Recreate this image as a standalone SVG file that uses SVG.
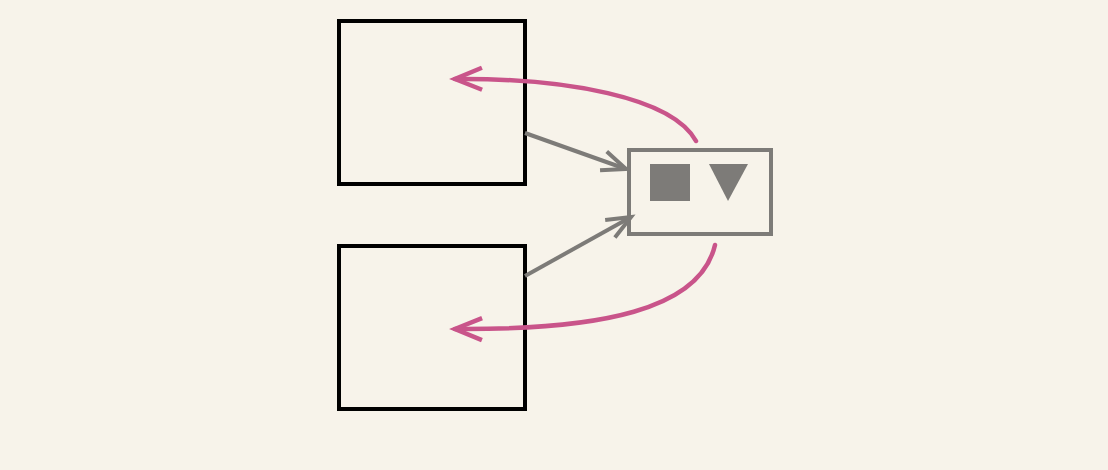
<svg xmlns="http://www.w3.org/2000/svg" width="1108" height="470" viewBox="0 0 1108 470">
<style>
.box{fill:none;stroke:#000;stroke-width:4}
.gbox{fill:none;stroke:#7d7b78;stroke-width:4}
.gline{fill:none;stroke:#7d7b78;stroke-width:4}
.pline{fill:none;stroke:#c9548a;stroke-width:4.5;stroke-linecap:round}
</style>
<defs>
<marker id="ag" markerUnits="userSpaceOnUse" markerWidth="40" markerHeight="30" viewBox="-32 -15 40 30" refX="0" refY="0" orient="auto">
<path d="M-24,-10 L0,0 L-24,10" fill="none" stroke="#7d7b78" stroke-width="4"/>
</marker>
<marker id="ap" markerUnits="userSpaceOnUse" markerWidth="40" markerHeight="30" viewBox="-32 -15 40 30" refX="0" refY="0" orient="auto">
<path d="M-27,-11 L0,0 L-27,11" fill="none" stroke="#c9548a" stroke-width="4.5"/>
</marker>
</defs>
<rect width="1108" height="470" fill="#f7f3ea"/>
<g id="node-top"><rect class="box" x="339" y="21" width="186" height="163"/></g>
<g id="node-bottom"><rect class="box" x="339" y="246" width="186" height="163"/></g>
<g id="node-small">
<rect class="gbox" x="629" y="150" width="142" height="84"/>
<rect x="650" y="164" width="40" height="37" fill="#7d7b78"/>
<polygon points="709,164 748,164 728,201" fill="#7d7b78"/>
</g>
<g id="connectors">
<path class="gline" d="M525,133 L626,169" marker-end="url(#ag)"/>
<path class="gline" d="M525,276 L631,217" marker-end="url(#ag)"/>
<path class="pline" d="M696,141 C672,97 565,78 455,79" marker-end="url(#ap)"/>
<path class="pline" d="M715,245 C700,310 600,330 455,329" marker-end="url(#ap)"/>
</g>
</svg>
